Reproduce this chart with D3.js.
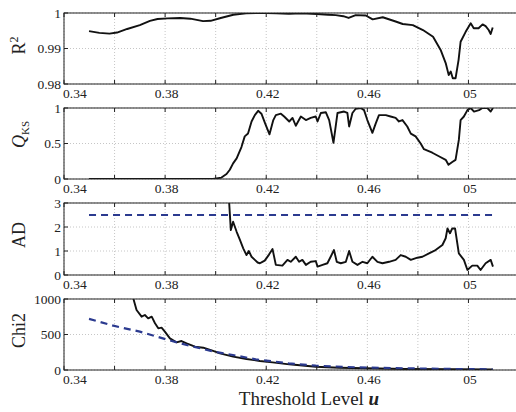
<!DOCTYPE html>
<html><head><meta charset="utf-8">
<script src="https://cdn.jsdelivr.net/npm/d3@7"></script>
<style>body{margin:0;background:#fff} text{font-family:"Liberation Serif","DejaVu Serif",serif;}</style>
</head><body><svg id="c" width="516" height="412"></svg>
<script>
// ---------- data ----------
const xTickValues = [0.34,0.36,0.38,0.40,0.42,0.44,0.46,0.48,0.50,0.52];
const xTickLabels = [["0.34",0.34],["0.38",0.38],["0.42",0.42],["0.46",0.46],["05",0.50]];

const r2U = [0.3499,0.354,0.358,0.361,0.365,0.370,0.374,0.377,0.381,0.386,0.390,0.393,0.395,0.398,0.402,0.407,0.412,0.416,0.420,0.424,0.429,0.434,0.440,0.4445,0.4475,0.4505,0.4526,0.4554,0.4594,0.4621,0.4661,0.4712,0.474,0.478,0.482,0.486,0.489,0.491,0.4922,0.493,0.4938,0.4949,0.4961,0.4969,0.4989,0.5009,0.5021,0.504,0.5056,0.5068,0.508,0.5088,0.5096];
const r2Vals = [0.9949,0.9944,0.9942,0.9945,0.9955,0.9966,0.9978,0.9983,0.9985,0.9986,0.9984,0.9980,0.9977,0.9978,0.9986,0.9995,0.9999,1.0,1.0,0.9999,0.9998,0.9999,0.9997,0.9995,0.9994,0.9991,0.9986,0.9994,0.9993,0.9982,0.9988,0.9976,0.9969,0.9966,0.9952,0.9933,0.9896,0.9859,0.9825,0.9835,0.9816,0.9816,0.9868,0.9919,0.9947,0.9971,0.9957,0.9957,0.9968,0.9963,0.9952,0.9941,0.9959];

const qU = [0.3499,0.3989,0.3997,0.4023,0.4043,0.4056,0.4069,0.4083,0.4102,0.4115,0.4128,0.4142,0.4155,0.4168,0.4181,0.4196,0.4213,0.4228,0.4238,0.4258,0.4271,0.4291,0.4304,0.4317,0.4337,0.4357,0.4376,0.4396,0.4403,0.4416,0.4436,0.4449,0.4466,0.4482,0.4508,0.4521,0.4528,0.4541,0.4554,0.4574,0.4587,0.4600,0.4620,0.4633,0.4646,0.4673,0.4692,0.4712,0.4725,0.4739,0.4758,0.4772,0.4791,0.4811,0.4824,0.4857,0.4883,0.4910,0.4921,0.4936,0.4949,0.4962,0.4969,0.4982,0.4996,0.5009,0.5022,0.5042,0.5055,0.5075,0.5088,0.5097];
const qVals = [0,0,0.005,0.02,0.07,0.13,0.22,0.29,0.45,0.60,0.64,0.81,0.90,0.96,0.92,0.78,0.63,0.83,0.90,0.92,0.88,0.81,0.86,0.75,0.88,0.83,0.86,0.88,0.81,0.93,0.94,0.83,0.51,0.93,0.95,0.93,0.74,0.93,0.99,1.0,0.97,0.83,0.65,0.78,0.90,0.90,0.88,0.86,0.81,0.83,0.74,0.64,0.60,0.50,0.42,0.37,0.32,0.27,0.20,0.24,0.27,0.55,0.83,0.88,0.97,1.0,0.95,0.97,1.0,1.0,0.95,1.0];

const adU = [0.4050,0.4060,0.4069,0.4083,0.4096,0.4109,0.4122,0.4131,0.4142,0.4155,0.4166,0.4175,0.4185,0.4194,0.4211,0.4225,0.4238,0.4264,0.4284,0.4297,0.4317,0.4330,0.4343,0.4357,0.4376,0.4396,0.4403,0.4423,0.4442,0.4455,0.4468,0.4479,0.4495,0.4515,0.4528,0.4541,0.4561,0.4581,0.4600,0.4620,0.4640,0.4660,0.4686,0.4712,0.4732,0.4752,0.4772,0.4798,0.4818,0.4844,0.4870,0.4897,0.4910,0.4917,0.4927,0.4936,0.4947,0.4962,0.4982,0.4996,0.5015,0.5035,0.5048,0.5068,0.5088,0.5097];
const adVals = [3.6,1.87,2.22,1.80,1.46,1.11,0.83,1.0,0.76,0.63,0.52,0.49,0.55,0.60,0.85,1.08,0.42,0.39,0.63,0.55,0.76,0.55,0.63,0.42,0.55,0.58,0.35,0.42,0.49,0.76,1.04,0.55,0.49,0.55,1.0,0.55,0.42,0.55,0.49,0.76,0.55,0.49,0.55,0.63,0.83,0.76,0.63,0.72,0.76,0.90,1.04,1.25,1.53,1.94,1.74,1.94,1.94,0.90,0.63,0.21,0.39,0.39,0.21,0.49,0.63,0.35];
const adThreshU = [0.3499,0.5097];
const adThreshVals = [2.5,2.5];

const chiU = [0.3665,0.3674,0.3687,0.3707,0.3720,0.3733,0.3747,0.3760,0.3773,0.3786,0.3799,0.3819,0.3845,0.3865,0.3885,0.3918,0.3951,0.3990,0.4017,0.4069,0.4122,0.4175,0.4225,0.4291,0.4396,0.4488,0.4594,0.4752,0.4949,0.5096];
const chiVals = [1150,1010,845,751,775,728,751,658,587,596,540,446,390,408,376,328,314,268,235,188,155,127,108,80,46,32,24,14,10,8];
const chiFitU = [0.3499,0.3595,0.3700,0.3806,0.3885,0.3990,0.4068,0.4159,0.4289,0.4396,0.4554,0.4752,0.4949,0.5096];
const chiFitVals = [720,624,540,430,352,262,211,150,94,61,38,24,14,10];

// ---------- layout ----------
const svg = d3.select("#c");
const x = d3.scaleLinear().domain([0.34,0.52]).range([64,519]);
const NAVY = "#2b3a8f";

const panels = [
  {top:13,bottom:84,domain:[0.98,1],ticks:[0.98,0.99,1],labels:["0.98","0.99","1"],ylabel:"r2",
   series:[{u:r2U,v:r2Vals,color:"#111",dash:null}]},
  {top:108,bottom:179,domain:[0,1],ticks:[0,0.5,1],labels:["0","0.5","1"],ylabel:"q",
   series:[{u:qU,v:qVals,color:"#111",dash:null}]},
  {top:203,bottom:275,domain:[0,3],ticks:[0,1,2,3],labels:["0","1","2","3"],ylabel:"AD",
   series:[{u:adThreshU,v:adThreshVals,color:NAVY,dash:"7,5"},{u:adU,v:adVals,color:"#111",dash:null}]},
  {top:299,bottom:370,domain:[0,1000],ticks:[0,500,1000],labels:["0","500","1000"],ylabel:"Chi2",
   series:[{u:chiU,v:chiVals,color:"#111",dash:null},{u:chiFitU,v:chiFitVals,color:NAVY,dash:"7,5"}]}
];

panels.forEach((p,i)=>{
  const y = d3.scaleLinear().domain(p.domain).range([p.bottom,p.top]);
  const g = svg.append("g");
  const x0 = x.range()[0], x1 = x.range()[1];
  // grid
  xTickValues.forEach(t=>{
    g.append("line").attr("x1",x(t)).attr("x2",x(t)).attr("y1",p.top).attr("y2",p.bottom)
      .attr("stroke","#b8b8b8").attr("stroke-width",0.8).attr("stroke-dasharray","1,2");
  });
  p.ticks.forEach(t=>{
    g.append("line").attr("x1",x0).attr("x2",x1).attr("y1",y(t)).attr("y2",y(t))
      .attr("stroke","#b8b8b8").attr("stroke-width",0.8).attr("stroke-dasharray","1,2");
  });
  // clip
  const cid = "clip"+i;
  svg.append("clipPath").attr("id",cid).append("rect")
    .attr("x",x0).attr("y",p.top).attr("width",x1-x0).attr("height",p.bottom-p.top);
  const line = d3.line().x(d=>x(d[0])).y(d=>y(d[1]));
  p.series.forEach(s=>{
    const pts = s.u.map((u,k)=>[u,s.v[k]]);
    g.append("path").attr("d",line(pts)).attr("fill","none")
      .attr("stroke",s.color).attr("stroke-width",s.dash?2.2:1.9)
      .attr("stroke-linejoin","round")
      .attr("stroke-dasharray",s.dash)
      .attr("clip-path","url(#"+cid+")");
  });
  // box
  g.append("rect").attr("x",x0).attr("y",p.top).attr("width",x1-x0).attr("height",p.bottom-p.top)
    .attr("fill","none").attr("stroke","#222").attr("stroke-width",1);
  // ticks inward
  xTickValues.forEach(t=>{
    g.append("line").attr("x1",x(t)).attr("x2",x(t)).attr("y1",p.bottom).attr("y2",p.bottom-4).attr("stroke","#222");
    g.append("line").attr("x1",x(t)).attr("x2",x(t)).attr("y1",p.top).attr("y2",p.top+4).attr("stroke","#222");
  });
  p.ticks.forEach(t=>{
    g.append("line").attr("x1",x0).attr("x2",x0+4).attr("y1",y(t)).attr("y2",y(t)).attr("stroke","#222");
  });
  // y tick labels
  p.ticks.forEach((t,k)=>{
    g.append("text").attr("x",61).attr("y",y(t)+4.5).attr("text-anchor","end")
      .attr("font-size",13.5).attr("fill","#222").text(p.labels[k]);
  });
  // x tick labels
  xTickLabels.forEach(([lab,t],k)=>{
    g.append("text").attr("x",k===0?x(t)-1:x(t)+1.5).attr("y",p.bottom+13.5)
      .attr("text-anchor",k===0?"start":"middle")
      .attr("font-size",13.5).attr("fill","#222").text(lab);
  });
  // y label
  const cy = (p.top+p.bottom)/2;
  const lab = g.append("text").attr("font-size",18).attr("fill","#222")
    .attr("text-anchor","middle");
  if(p.ylabel==="r2"){
    lab.attr("transform",`translate(25,${cy-3}) rotate(-90)`);
    lab.append("tspan").text("R");
    lab.append("tspan").attr("dy",-7).attr("font-size",12).text("2");
  } else if(p.ylabel==="q"){
    lab.attr("transform",`translate(25,${cy-9}) rotate(-90)`);
    lab.append("tspan").attr("font-style","italic").text("Q");
    lab.append("tspan").attr("dy",4).attr("font-size",11).text("KS");
  } else {
    lab.attr("transform",`translate(25,${cy-4}) rotate(-90)`).text(p.ylabel);
  }
});

// x axis label
const xl = svg.append("text").attr("x",309).attr("y",405).attr("text-anchor","middle")
  .attr("font-size",19).attr("fill","#222");
xl.append("tspan").text("Threshold Level ");
xl.append("tspan").attr("font-style","italic").attr("font-weight","bold").text("u");
</script></body></html>
